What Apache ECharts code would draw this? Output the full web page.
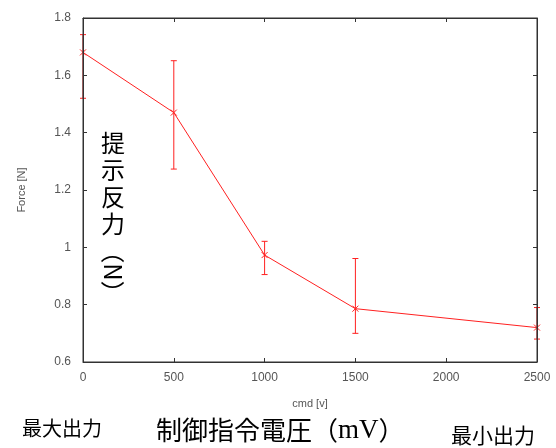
<!DOCTYPE html>
<html><head><meta charset="utf-8">
<script src="https://cdn.jsdelivr.net/npm/echarts@6/dist/echarts.min.js"></script>
<style>html,body{margin:0;padding:0;background:#fff}#c{width:556px;height:448px}</style>
</head><body><div id="c"></div>
<script>
const cmdValues = [0, 500, 1000, 1500, 2500];
const forceMean = [1.68, 1.47, 0.973, 0.786, 0.72];
const errLow = [1.52, 1.273, 0.905, 0.70, 0.68];
const errHigh = [1.742, 1.651, 1.021, 0.961, 0.79];
const xTicks = [0, 500, 1000, 1500, 2000, 2500];
const yTicks = [0.6, 0.8, 1, 1.2, 1.4, 1.6, 1.8];

const chart = echarts.init(document.getElementById('c'), null, {renderer: 'canvas'});
const red = '#ff2020';
const axisCol = '#333';
const labelCol = '#555';
const lineData = cmdValues.map((x, i) => [x, forceMean[i]]);
const errData = cmdValues.map((x, i) => [x, errLow[i], errHigh[i], forceMean[i]]);

const baseAxis = {
  z: 5,
  axisLine: {show: true, onZero: false, lineStyle: {color: axisCol, width: 1}},
  axisTick: {show: true, inside: true, length: 4, lineStyle: {color: axisCol}},
  splitLine: {show: false}
};

chart.setOption({
  animation: false,
  grid: {left: 83, right: 19, top: 18, bottom: 86, containLabel: false,
    show: true, borderColor: axisCol, borderWidth: 1, backgroundColor: 'transparent', z: 10},
  xAxis: [
    Object.assign({}, baseAxis, {
      type: 'value', min: xTicks[0], max: xTicks[xTicks.length - 1], interval: 500,
      position: 'bottom',
      axisLabel: {color: labelCol, fontSize: 12, fontFamily: 'Liberation Sans', margin: 10,
        formatter: v => String(v)},
      name: 'cmd [v]', nameLocation: 'middle', nameGap: 36,
      nameTextStyle: {color: labelCol, fontSize: 11, fontFamily: 'Liberation Sans'}
    }),
    Object.assign({}, baseAxis, {
      type: 'value', min: xTicks[0], max: xTicks[xTicks.length - 1], interval: 500,
      position: 'top', axisLabel: {show: false}
    })
  ],
  yAxis: [
    Object.assign({}, baseAxis, {
      type: 'value', min: yTicks[0], max: yTicks[yTicks.length - 1], interval: 0.2,
      position: 'left',
      axisLabel: {color: labelCol, fontSize: 12, fontFamily: 'Liberation Sans', margin: 12,
        formatter: v => String(parseFloat(v.toFixed(2)))},
      name: 'Force [N]', nameLocation: 'middle', nameGap: 56, nameRotate: 90,
      nameTextStyle: {color: labelCol, fontSize: 11, fontFamily: 'Liberation Sans'}
    }),
    Object.assign({}, baseAxis, {
      type: 'value', min: yTicks[0], max: yTicks[yTicks.length - 1], interval: 0.2,
      position: 'right', axisLabel: {show: false}
    })
  ],
  series: [
    {
      type: 'line', data: lineData, xAxisIndex: 0, yAxisIndex: 0,
      showSymbol: false, lineStyle: {color: red, width: 1}, z: 2
    },
    {
      type: 'custom', xAxisIndex: 0, yAxisIndex: 0, data: errData, z: 3,
      renderItem: function (params, api) {
        const x = api.value(0);
        const lo = api.coord([x, api.value(1)]);
        const hi = api.coord([x, api.value(2)]);
        const m = api.coord([x, api.value(3)]);
        const cw = 3, ms = 3;
        const st = {stroke: red, lineWidth: 1};
        return {
          type: 'group',
          children: [
            {type: 'line', shape: {x1: lo[0], y1: lo[1], x2: hi[0], y2: hi[1]}, style: st},
            {type: 'line', shape: {x1: lo[0] - cw, y1: lo[1], x2: lo[0] + cw, y2: lo[1]}, style: st},
            {type: 'line', shape: {x1: hi[0] - cw, y1: hi[1], x2: hi[0] + cw, y2: hi[1]}, style: st},
            {type: 'line', shape: {x1: m[0] - ms, y1: m[1] - ms, x2: m[0] + ms, y2: m[1] + ms}, style: st},
            {type: 'line', shape: {x1: m[0] - ms, y1: m[1] + ms, x2: m[0] + ms, y2: m[1] - ms}, style: st}
          ]
        };
      }
    }
  ],
  graphic: [
    {type: 'text', left: 101, top: 129, z: 10,
      style: {text: '提\n示\n反\n力', font: '24px "Noto Sans CJK JP"', fill: '#000', lineHeight: 27}},
    {type: 'text', x: 113, y: 272, rotation: -Math.PI / 2, z: 10,
      style: {text: '（N）', font: '24px "Noto Sans CJK JP"', fill: '#000', align: 'center', verticalAlign: 'middle'}},
    {type: 'text', left: 22, top: 418, z: 10,
      style: {text: '最大出力', font: '20px "Noto Sans CJK JP"', fill: '#000'}},
    {type: 'text', left: 156, top: 417, z: 10,
      style: {text: '制御指令電圧（{s|mV}）', font: '26px "Noto Sans CJK JP"', fill: '#000',
        rich: {s: {fontFamily: 'Liberation Serif', fontSize: 27, fill: '#000'}}}},
    {type: 'text', left: 451, top: 425, z: 10,
      style: {text: '最小出力', font: '21px "Noto Sans CJK JP"', fill: '#000'}}
  ]
});
</script></body></html>
